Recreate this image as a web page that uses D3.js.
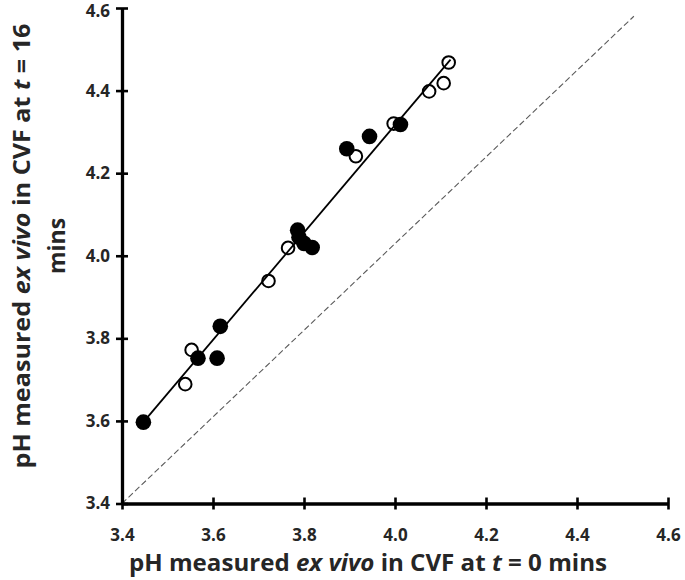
<!DOCTYPE html>
<html>
<head>
<meta charset="utf-8">
<script src="https://cdn.jsdelivr.net/npm/d3@7"></script>
<style>
  html, body { margin: 0; padding: 0; background: #ffffff; }
  svg { display: block; }
  text { font-family: "Open Sans", "Noto Sans", sans-serif; font-weight: bold; fill: #262626; }
</style>
</head>
<body>
<svg id="chart" width="685" height="580"></svg>
<script>
// ---- data ----
const openX   = [3.539, 3.553, 3.722, 3.765, 3.914, 3.997, 4.075, 4.107, 4.118];
const openY   = [3.689, 3.772, 3.939, 4.019, 4.241, 4.320, 4.398, 4.418, 4.468];
const filledX = [3.447, 3.567, 3.609, 3.616, 3.786, 3.789, 3.800, 3.818, 3.894, 3.944, 4.012];
const filledY = [3.597, 3.752, 3.752, 3.829, 4.062, 4.045, 4.030, 4.020, 4.259, 4.289, 4.318];
const fitX    = [3.447, 4.122];
const fitY    = [3.597, 4.475];
const refX    = [3.4, 4.525];
const refY    = [3.4, 4.580];
const xTicks  = [3.4, 3.6, 3.8, 4.0, 4.2, 4.4, 4.6];
const yTicks  = [3.4, 3.6, 3.8, 4.0, 4.2, 4.4, 4.6];
const xTitle  = ["pH measured ", "ex vivo", " in CVF at ", "t", " = 0 mins"];
const yTitle1 = ["pH measured ", "ex vivo", " in CVF at ", "t", " = 16"];
const yTitle2 = "mins";

const svg = d3.select("#chart");
const x = d3.scaleLinear().domain([3.4, 4.6]).range([122, 668]);
const y = d3.scaleLinear().domain([3.4, 4.6]).range([503.5, 8]);

// reference (dashed) line
svg.append("line")
  .attr("x1", x(refX[0])).attr("y1", y(refY[0]))
  .attr("x2", x(refX[1])).attr("y2", y(refY[1]))
  .attr("stroke", "#5a5a5a").attr("stroke-width", 1.1)
  .attr("stroke-dasharray", "6,3");

// fit line
svg.append("line")
  .attr("x1", x(fitX[0])).attr("y1", y(fitY[0]))
  .attr("x2", x(fitX[1])).attr("y2", y(fitY[1]))
  .attr("stroke", "#000").attr("stroke-width", 1.8);

// axes
const xAxis = d3.axisBottom(x).tickValues(xTicks).tickFormat(d3.format(".1f")).tickSizeInner(6).tickSizeOuter(0).tickPadding(19);
const yAxis = d3.axisLeft(y).tickValues(yTicks).tickFormat(d3.format(".1f")).tickSizeInner(6).tickSizeOuter(0).tickPadding(6);

const gx = svg.append("g").attr("transform", `translate(0,${y(3.4)})`).call(xAxis);
const gy = svg.append("g").attr("transform", `translate(${x(3.4)},0)`).call(yAxis);

[gx, gy].forEach(g => {
  g.select(".domain").attr("stroke", "#000").attr("stroke-width", 3.3);
  g.selectAll(".tick line").attr("stroke", "#000").attr("stroke-width", 2.6);
  g.selectAll(".tick text").attr("font-size", 17).attr("font-family", "Open Sans, sans-serif").attr("font-weight", "bold").attr("fill", "#262626");
});
// ticks cross the axis
gx.selectAll(".tick line").attr("y1", -6).attr("y2", 6);
gy.selectAll(".tick line").attr("x1", -6).attr("x2", 6);
// keep the top y label inside the picture
gy.selectAll(".tick text").filter(d => d === 4.6).attr("dy", "0.5em");

// open markers
svg.append("g").selectAll("circle").data(openX.map((v, i) => [v, openY[i]]))
  .join("circle")
  .attr("cx", d => x(d[0])).attr("cy", d => y(d[1])).attr("r", 6.3)
  .attr("fill", "none").attr("stroke", "#000").attr("stroke-width", 2);

// filled markers
svg.append("g").selectAll("circle").data(filledX.map((v, i) => [v, filledY[i]]))
  .join("circle")
  .attr("cx", d => x(d[0])).attr("cy", d => y(d[1])).attr("r", 7.8)
  .attr("fill", "#000");

// titles
function richText(sel, parts) {
  parts.forEach((p, i) => {
    sel.append("tspan").text(p).attr("font-style", (i === 1 || i === 3) ? "italic" : "normal");
  });
}
const xt = svg.append("text").attr("x", 368).attr("y", 571).attr("text-anchor", "middle")
  .attr("font-size", 23).attr("fill", "#262626")
  .attr("textLength", 478).attr("lengthAdjust", "spacingAndGlyphs");
richText(xt, xTitle);

const yt = svg.append("g").attr("transform", "translate(0,246) rotate(-90)");
const yt1 = yt.append("text").attr("x", 0).attr("y", 30).attr("text-anchor", "middle")
  .attr("font-size", 23).attr("fill", "#262626")
  .attr("textLength", 445).attr("lengthAdjust", "spacingAndGlyphs");
richText(yt1, yTitle1);
yt.append("text").attr("x", 0).attr("y", 65).attr("text-anchor", "middle")
  .attr("font-size", 23).attr("fill", "#262626").text(yTitle2);
</script>
</body>
</html>
